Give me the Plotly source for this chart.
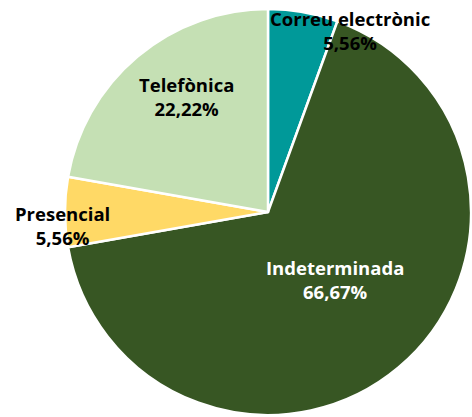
import plotly.graph_objects as go

categories = ["Correu electrònic", "Indeterminada", "Presencial", "Telefònica"]
values = [1, 12, 1, 4]
colors = ["#009999", "#375623", "#FFD966", "#C5E0B4"]
label_colors = ["black", "white", "black", "black"]
# label block centres in pixels (layout positions)
label_px = [(350, 30), (335, 279), (62, 225), (186, 96)]

W, H = 472, 417
total = sum(values)

fig = go.Figure(go.Pie(
    labels=categories, values=values, sort=False, direction="clockwise",
    rotation=0, marker=dict(colors=colors, line=dict(color="white", width=2.5)),
    textinfo="none", hoverinfo="label+percent", showlegend=False,
    domain=dict(x=[65 / W, 471 / W], y=[2 / H, 408 / H]),
))

for cat, v, c, (px, py) in zip(categories, values, label_colors, label_px):
    pct = f"{v / total * 100:.2f}".replace(".", ",") + "%"
    fig.add_annotation(
        x=px / W, y=1 - py / H, xref="paper", yref="paper",
        text=f"<b>{cat}</b><br><b>{pct}</b>", showarrow=False,
        font=dict(family="Open Sans", size=18.5, color=c),
        xanchor="center", yanchor="middle", align="center",
    )

fig.update_layout(width=W, height=H, margin=dict(l=0, r=0, t=0, b=0),
                  paper_bgcolor="white", plot_bgcolor="white")
fig.write_html("out.html", config={"displayModeBar": False},
               post_script="document.body.style.margin='0';")
